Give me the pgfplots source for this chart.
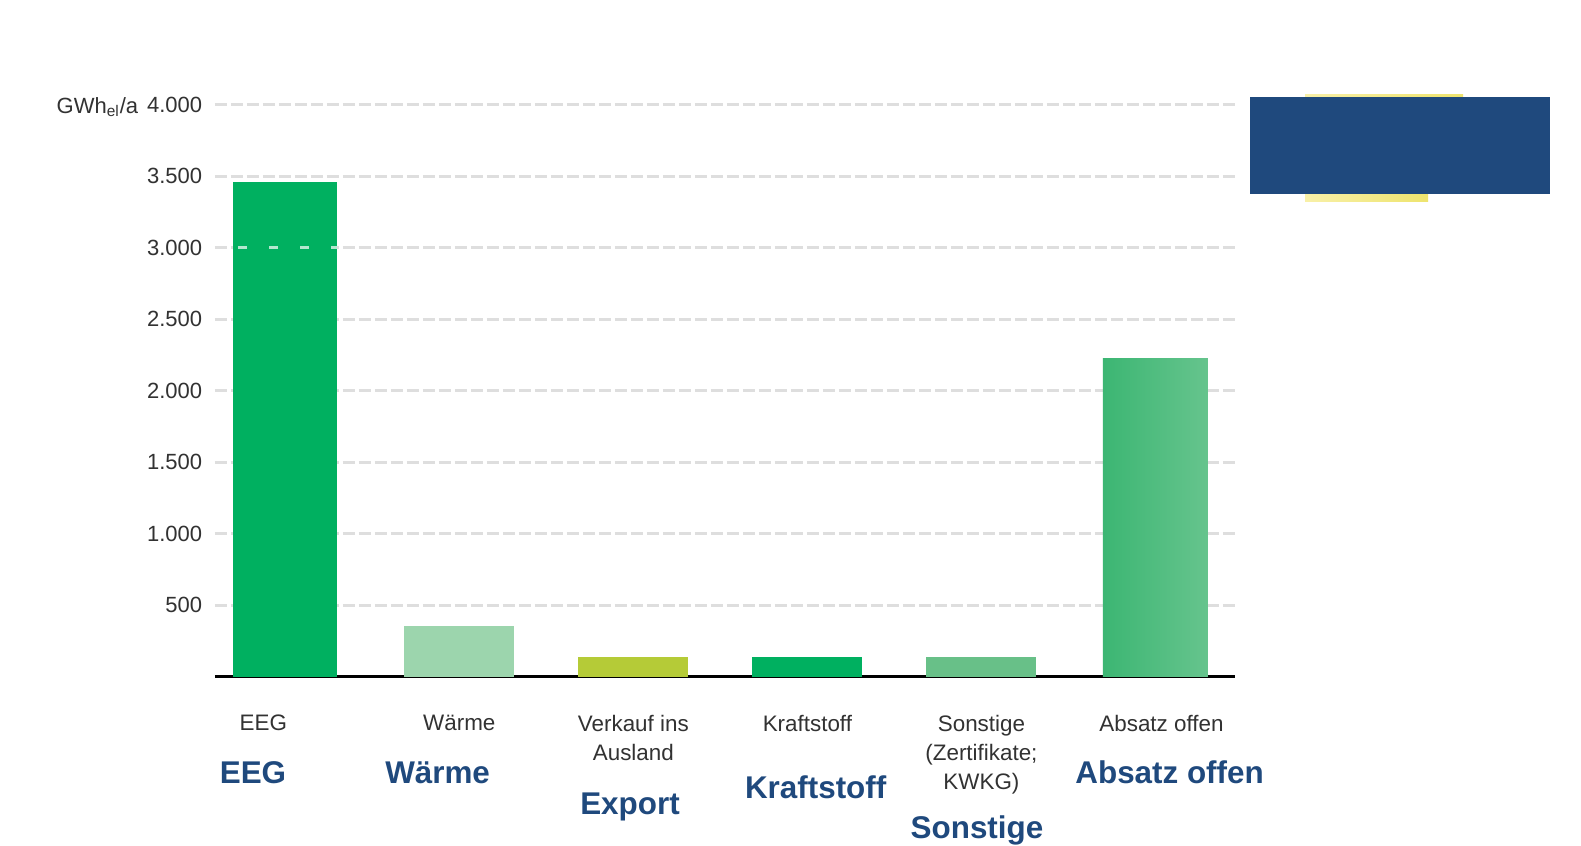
\documentclass[border=0pt]{standalone}
\usepackage{pgfplots}
\pgfplotsset{compat=1.18}
\usepackage{fontspec}
\setmainfont{Liberation Sans}
\definecolor{cEEG}{RGB}{0,176,96}
\definecolor{cWaerme}{RGB}{156,213,173}
\definecolor{cExport}{RGB}{181,203,55}
\definecolor{cKraft}{RGB}{0,176,96}
\definecolor{cSonst}{RGB}{104,192,136}
\definecolor{cAbsL}{RGB}{60,182,115}
\definecolor{cAbsR}{RGB}{102,196,141}
\definecolor{cBlue}{RGB}{31,73,125}
\definecolor{cYelL}{RGB}{248,240,168}
\definecolor{cYelR}{RGB}{238,228,110}
\definecolor{cGrid}{RGB}{222,222,222}
\definecolor{cTxt}{RGB}{50,50,50}
\begin{document}
\begin{tikzpicture}
\fill[white] (0pt,0pt) rectangle (790.5pt,-423pt);
\useasboundingbox (0pt,0pt) rectangle (790.5pt,-423pt);
\begin{axis}[
  at={(107.4pt,-338.3pt)}, anchor=south west,
  scale only axis, width=510.2pt, height=285.9pt,
  xmin=-0.405, xmax=5.458, ymin=0, ymax=4000,
  axis x line*=bottom, axis y line*=left,
  x axis line style={black, line width=1.5pt},
  y axis line style={draw=none},
  major tick length=0pt,
  xtick={0,1,2,3,4,5},
  xticklabels={{\hspace*{-22pt}EEG}, Wärme, {Verkauf ins\\Ausland}, Kraftstoff, {Sonstige\\(Zertifikate;\\KWKG)}, {Absatz offen\hspace*{-6pt}}},
  xticklabel style={align=center, text=cTxt, inner sep=0pt, anchor=north, yshift=-19pt,
    font=\fontsize{11.2}{14.6}\selectfont},
  ytick={500,1000,1500,2000,2500,3000,3500,4000},
  yticklabels={500,1.000,1.500,2.000,2.500,3.000,3.500,4.000},
  yticklabel style={text=cTxt, xshift=-2.8pt, font=\fontsize{11}{13}\selectfont},
  ymajorgrids,
  grid style={cGrid, line width=1.6pt, dash pattern=on 6pt off 2pt},
  ybar, bar shift=0pt,
  clip=false,
]
\addplot[draw=none, fill=cEEG, bar width=52pt] coordinates {(0,3460)};
\addplot[draw=none, fill=cWaerme, bar width=55pt] coordinates {(1,353)};
\addplot[draw=none, fill=cExport, bar width=55pt] coordinates {(2,134)};
\addplot[draw=none, fill=cKraft, bar width=55pt] coordinates {(3,134)};
\addplot[draw=none, fill=cSonst, bar width=55pt] coordinates {(4,134)};
\addplot[draw=none, left color=cAbsL, right color=cAbsR, bar width=52.5pt] coordinates {(5,2222)};
\draw[white, opacity=0.7, line width=1.5pt, dash pattern=on 4.5pt off 11pt]
  (axis cs:-0.27,3000) -- (axis cs:0.3,3000);
\end{axis}
\begin{scope}[x=0.5pt,y=-0.5pt]
\node[anchor=base east, text=cTxt, inner sep=0pt, font=\fontsize{11}{13}\selectfont]
  at (138.5,113) {GWh\textsubscript{el}/a};
% decorations top right
\fill[left color=cYelL, right color=cYelR] (1305,94) rectangle (1463,100);
\fill[left color=cYelL, right color=cYelR] (1305,190) rectangle (1428,201);
\fill[cBlue] (1250,97) rectangle (1550,194);
% blue category labels
\begin{scope}[every node/.style={anchor=base, inner sep=0pt, text=cBlue,
    font=\fontsize{15.7}{18}\selectfont\bfseries}]
\node at (253,783.5) {EEG};
\node at (437.6,783.5) {Wärme};
\node at (630,814) {Export};
\node at (815.7,798.6) {Kraftstoff};
\node at (977,838.5) {Sonstige};
\node at (1169.6,783.5) {Absatz offen};
\end{scope}
\end{scope}
\end{tikzpicture}
\end{document}
